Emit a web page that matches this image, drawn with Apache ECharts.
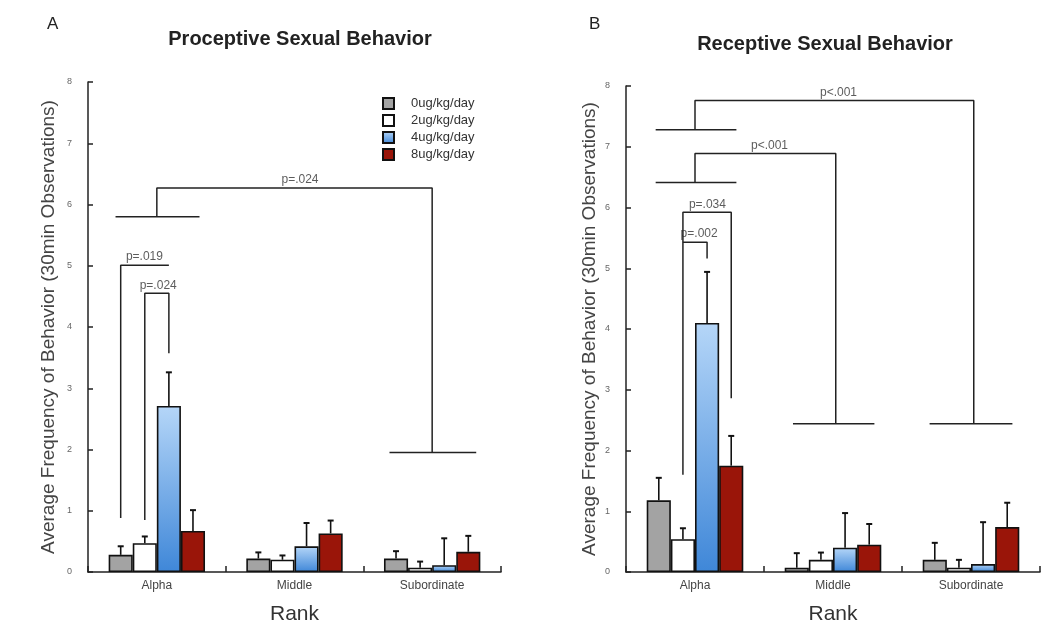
<!DOCTYPE html>
<html>
<head>
<meta charset="utf-8">
<script src="https://cdn.jsdelivr.net/npm/echarts@6/dist/echarts.min.js"></script>
<style>html,body{margin:0;padding:0;background:#fff;}#c{width:1050px;height:630px;}</style>
</head>
<body>
<div id="c"></div>
<script>
// ---- data ----
const categories = ['Alpha', 'Middle', 'Subordinate'];
const doses = ['0ug/kg/day', '2ug/kg/day', '4ug/kg/day', '8ug/kg/day'];
const yTicks = [0, 1, 2, 3, 4, 5, 6, 7, 8];

// Proceptive (panel A): means and mean+error, one row per dose
const procMean0 = [0.28, 0.22, 0.22];
const procMean2 = [0.47, 0.20, 0.07];
const procMean4 = [2.71, 0.42, 0.11];
const procMean8 = [0.67, 0.63, 0.33];
const procUpper0 = [0.42, 0.32, 0.34];
const procUpper2 = [0.58, 0.27, 0.17];
const procUpper4 = [3.26, 0.80, 0.55];
const procUpper8 = [1.01, 0.84, 0.59];

// Receptive (panel B)
const recMean0 = [1.18, 0.07, 0.20];
const recMean2 = [0.54, 0.20, 0.07];
const recMean4 = [4.10, 0.40, 0.13];
const recMean8 = [1.75, 0.45, 0.74];
const recUpper0 = [1.55, 0.31, 0.48];
const recUpper2 = [0.72, 0.32, 0.20];
const recUpper4 = [4.94, 0.97, 0.82];
const recUpper8 = [2.24, 0.79, 1.14];

// Significance brackets: polylines in (category-band units 0..3, value) space
const procBrackets = [
  [[0.2, 5.8], [0.81, 5.8]],
  [[0.5, 5.8], [0.5, 6.27], [2.5, 6.27], [2.5, 1.95]],
  [[2.19, 1.95], [2.82, 1.95]],
  [[0.2375, 0.88], [0.2375, 5.01], [0.5875, 5.01]],
  [[0.4125, 0.85], [0.4125, 4.55], [0.5875, 4.55], [0.5875, 3.57]]
];
const procLabels = [[1.54, 6.27, 'p=.024'], [0.41, 5.01, 'p=.019'], [0.51, 4.55, 'p=.024']];

const recBrackets = [
  [[0.215, 7.28], [0.80, 7.28]],
  [[0.5, 7.28], [0.5, 7.76], [2.52, 7.76], [2.52, 2.44]],
  [[2.2, 2.44], [2.8, 2.44]],
  [[0.215, 6.41], [0.80, 6.41]],
  [[0.5, 6.41], [0.5, 6.89], [1.52, 6.89], [1.52, 2.44]],
  [[1.21, 2.44], [1.8, 2.44]],
  [[0.4125, 1.6], [0.4125, 5.92], [0.7625, 5.92], [0.7625, 2.86]],
  [[0.4125, 5.43], [0.5875, 5.43], [0.5875, 5.16]]
];
const recLabels = [[1.54, 7.76, 'p<.001'], [1.04, 6.89, 'p<.001'], [0.59, 5.92, 'p=.034'], [0.53, 5.43, 'p=.002']];

// ---- styles ----
const FONT = 'Liberation Sans, Arial, sans-serif';
const barColors = [
  '#a3a3a3',
  '#ffffff',
  {type: 'linear', x: 0, y: 0, x2: 0, y2: 1, colorStops: [{offset: 0, color: '#b5d6f8'}, {offset: 1, color: '#3f87d8'}]},
  '#9a1509'
];
const offsets = [-0.2625, -0.0875, 0.0875, 0.2625];

function errSeries(upper, means, gridIdx, i) {
  return {
    type: 'custom', xAxisIndex: gridIdx * 2, yAxisIndex: gridIdx, silent: true, z: 3,
    data: means.map((m, k) => [k, m, upper[k]]),
    renderItem: function (params, api) {
      const band = api.size([1, 0])[0];
      const base = api.coord([api.value(0), api.value(1)]);
      const top = api.coord([api.value(0), api.value(2)]);
      const x = base[0] + offsets[i] * band;
      const st = {stroke: '#111', lineWidth: 1.6};
      return {type: 'group', children: [
        {type: 'line', shape: {x1: x, y1: base[1], x2: x, y2: top[1]}, style: st},
        {type: 'line', shape: {x1: x - 3, y1: top[1], x2: x + 3, y2: top[1]}, style: {stroke: '#111', lineWidth: 2}}
      ]};
    }
  };
}

function panel(gridIdx, meansList, upperList, brackets, labels) {
  const s = [];
  meansList.forEach((m, i) => {
    s.push({
      type: 'bar', name: doses[i], xAxisIndex: gridIdx * 2, yAxisIndex: gridIdx,
      data: m, barGap: '0%', barCategoryGap: '30%',
      itemStyle: {color: barColors[i], borderColor: '#111', borderWidth: 1.6}
    });
  });
  meansList.forEach((m, i) => s.push(errSeries(upperList[i], m, gridIdx, i)));
  brackets.forEach(b => s.push({
    type: 'line', xAxisIndex: gridIdx * 2 + 1, yAxisIndex: gridIdx, data: b,
    showSymbol: false, silent: true, z: 4,
    lineStyle: {color: '#222', width: 1.5}
  }));
  s.push({
    type: 'scatter', xAxisIndex: gridIdx * 2 + 1, yAxisIndex: gridIdx, silent: true,
    symbolSize: 0, data: labels.map(l => ({value: [l[0], l[1]], label: {formatter: l[2]}})),
    label: {show: true, position: 'top', distance: 2, color: '#333', fontSize: 12, fontFamily: FONT}
  });
  return s;
}

function xCat(gridIdx) {
  return {
    type: 'category', gridIndex: gridIdx, data: categories,
    axisLine: {lineStyle: {color: '#222', width: 1.5}},
    axisTick: {show: true, inside: true, length: 6, lineStyle: {color: '#222', width: 1.5}},
    axisLabel: {color: '#444', fontSize: 12, fontFamily: FONT, margin: 8},
    name: 'Rank', nameLocation: 'middle', nameGap: 32,
    nameTextStyle: {fontSize: 21, color: '#333', fontFamily: FONT}
  };
}
function xVal(gridIdx) {
  return {type: 'value', gridIndex: gridIdx, min: 0, max: 3, show: false};
}
function yAx(gridIdx, gap) {
  return {
    type: 'value', gridIndex: gridIdx, min: 0, max: 8, interval: 1,
    splitLine: {show: false},
    axisLine: {show: true, lineStyle: {color: '#222', width: 1.5}},
    axisTick: {show: true, inside: true, length: 5, lineStyle: {color: '#222', width: 1.5}},
    axisLabel: {color: '#666', fontSize: 9, fontFamily: FONT, margin: 16,
      formatter: v => yTicks.indexOf(v) >= 0 ? String(v) : ''},
    name: 'Average Frequency of Behavior (30min Observations)', nameLocation: 'middle',
    nameGap: gap, nameTextStyle: {fontSize: 19, color: '#444', fontFamily: FONT}
  };
}

const chart = echarts.init(document.getElementById('c'), null, {renderer: 'canvas'});
chart.setOption({
  animation: false,
  backgroundColor: '#fff',
  title: [
    {text: 'A', left: 42, top: 11, textStyle: {fontSize: 17, fontWeight: 'normal', color: '#222', fontFamily: FONT}},
    {text: 'Proceptive Sexual Behavior', left: 295, textAlign: 'center', top: 24, textStyle: {fontSize: 20, fontWeight: 'bold', color: '#222', fontFamily: FONT}},
    {text: 'B', left: 584, top: 11, textStyle: {fontSize: 17, fontWeight: 'normal', color: '#222', fontFamily: FONT}},
    {text: 'Receptive Sexual Behavior', left: 820, textAlign: 'center', top: 29, textStyle: {fontSize: 20, fontWeight: 'bold', color: '#222', fontFamily: FONT}}
  ],
  legend: {
    orient: 'vertical', left: 377, top: 92, itemWidth: 11, itemHeight: 11, itemGap: 4,
    icon: 'rect',
    data: doses, textStyle: {fontSize: 13, lineHeight: 13, color: '#333', fontFamily: FONT, padding: [0, 0, 0, 12]},
    selectedMode: false
  },
  grid: [
    {left: 88, right: 549, top: 82, bottom: 57},
    {left: 626, right: 10, top: 86, bottom: 54}
  ],
  xAxis: [xCat(0), xVal(0), xCat(1), xVal(1)],
  yAxis: [yAx(0, 30), yAx(1, 27)],
  series: [].concat(
    panel(0, [procMean0, procMean2, procMean4, procMean8], [procUpper0, procUpper2, procUpper4, procUpper8], procBrackets, procLabels),
    panel(1, [recMean0, recMean2, recMean4, recMean8], [recUpper0, recUpper2, recUpper4, recUpper8], recBrackets, recLabels)
  )
});
</script>
</body>
</html>
